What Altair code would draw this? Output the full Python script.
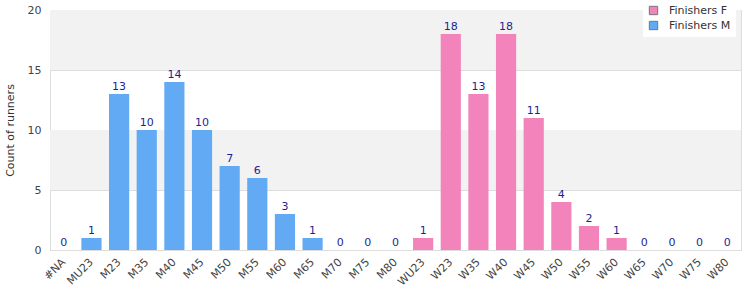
import altair as alt
import pandas as pd

categories = ["#NA", "MU23", "M23", "M35", "M40", "M45", "M50", "M55", "M60", "M65",
              "M70", "M75", "M80", "WU23", "W23", "W35", "W40", "W45", "W50", "W55",
              "W60", "W65", "W70", "W75", "W80"]
counts = [0, 1, 13, 10, 14, 10, 7, 6, 3, 1, 0, 0, 0, 1, 18, 13, 18, 11, 4, 2, 1, 0, 0, 0, 0]
series = ["Finishers M"] * 13 + ["Finishers F"] * 12
series_names = ["Finishers F", "Finishers M"]
series_colors = ["#f283bb", "#62aaf4"]
band_low = [5, 15]
band_high = [10, 20]

df = pd.DataFrame({"cat": categories, "count": counts, "series": series})
bands = pd.DataFrame({"lo": band_low, "hi": band_high})

FONT = "DejaVu Sans"

xscale = alt.Scale(domain=categories, paddingInner=0.27, paddingOuter=0.135)
yscale = alt.Scale(domain=[0, 20], nice=False)

bg = alt.Chart(bands).mark_rect(color="#f2f2f2").encode(
    y=alt.Y("lo:Q", scale=yscale),
    y2="hi:Q",
    x=alt.value(0),
    x2=alt.value(691),
)

base = alt.Chart(df)

bars = base.mark_bar().encode(
    x=alt.X("cat:N", scale=xscale, sort=categories,
            axis=alt.Axis(title=None, labelAngle=-45, labelFontSize=11, labelColor="#444",
                          labelFont=FONT, ticks=False, domain=False, grid=False,
                          labelPadding=6, labelOffset=-4)),
    y=alt.Y("count:Q", scale=yscale,
            axis=alt.Axis(title="Count of runners", values=[0, 5, 10, 15, 20],
                          labelFontSize=11, labelColor="#444", labelFont=FONT,
                          titleFont=FONT, titleFontSize=11, titleColor="#333",
                          titleFontWeight="normal", titlePadding=12,
                          ticks=False, domain=False, grid=True, gridColor="#dddddd",
                          labelPadding=9)),
    color=alt.Color("series:N",
                    scale=alt.Scale(domain=series_names, range=series_colors),
                    legend=alt.Legend(title=None, orient="none", legendX=593, legendY=-10,
                                      fillColor="white", padding=5, labelFont=FONT,
                                      labelFontSize=11, labelColor="#333",
                                      symbolType="square", symbolSize=70,
                                      symbolStrokeColor="#777", symbolStrokeWidth=1,
                                      symbolOpacity=1, rowPadding=2, labelOffset=10)),
)

labels = base.mark_text(baseline="alphabetic", dy=-4, fontSize=11, font=FONT,
                        color="#1f1f95").encode(
    x=alt.X("cat:N", scale=xscale, sort=categories),
    y=alt.Y("count:Q", scale=yscale),
    text="count:Q",
)

chart = alt.layer(bg, bars, labels).properties(
    width=691, height=240,
    autosize=alt.AutoSizeParams(type="none"),
    padding={"left": 50, "top": 10, "right": 9, "bottom": 50},
).configure_view(stroke="#dddddd", strokeWidth=1).configure(background="white")

chart.save("out.html", embed_options={"renderer": "svg", "actions": False})
